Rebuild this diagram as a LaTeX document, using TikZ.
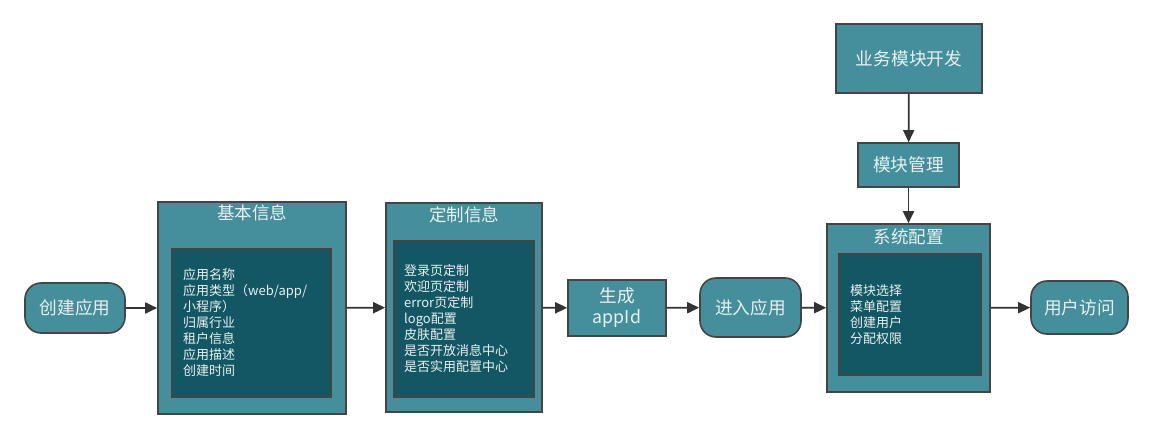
\documentclass[tikz,border=0pt]{standalone}
\usepackage{fontspec}
\setmainfont{Noto Sans CJK SC}
\usetikzlibrary{arrows.meta}
\definecolor{tealmid}{HTML}{458E9B}
\definecolor{tealdark}{HTML}{135764}
\definecolor{edgegray}{HTML}{444444}
\definecolor{txt}{HTML}{E8F0F0}
\definecolor{arrowc}{HTML}{333333}
\begin{document}
\begin{tikzpicture}[x=1pt,y=-1pt,
  box/.style={draw=edgegray,line width=1.6pt,fill=tealmid,text=txt,inner sep=0pt,align=center},
  inner/.style={draw=edgegray,line width=1.6pt,fill=tealdark,inner sep=0pt},
  pill/.style={box,rounded corners=16pt},
  big/.style={font=\fontsize{17.7}{21}\selectfont},
  title/.style={text=txt,font=\fontsize{17.5}{20}\selectfont,inner sep=0pt},
  list/.style={text=txt,font=\fontsize{13}{16}\selectfont,align=left,anchor=west,inner sep=0pt},
  flow/.style={draw=arrowc,line width=1.8pt,-{Triangle[length=12pt,width=11pt]}}
]
\useasboundingbox (0,0) rectangle (1153,439);

% start pill
\node[pill,big,minimum width=100pt,minimum height=50pt] (create) at (75,308) {创建应用};

% basic info group
\node[box,minimum width=188pt,minimum height=212pt] (basic) at (252,308) {};
\node[title] (basicT) at (252,213) {基本信息};
\node[inner,minimum width=159pt,minimum height=148pt] (basicIn) at (251.5,323) {};
\node[list] (basicL) at (183,323) {应用名称\\应用类型（web/app/\\小程序）\\归属行业\\租户信息\\应用描述\\创建时间};

% custom info group
\node[box,minimum width=156pt,minimum height=209pt] (custom) at (464,307.5) {};
\node[title] (customT) at (464,215) {定制信息};
\node[inner,minimum width=140pt,minimum height=156pt] (customIn) at (464,319) {};
\node[list] (customL) at (404,319) {登录页定制\\欢迎页定制\\error页定制\\logo配置\\皮肤配置\\是否开放消息中心\\是否实用配置中心};

% generate id
\node[box,minimum width=98pt,minimum height=56pt,font=\fontsize{17.7}{21}\selectfont] (gen) at (617,308) {生成\\appId};

% enter app
\node[pill,big,minimum width=101pt,minimum height=59pt] (enter) at (750.5,307.5) {进入应用};

% system config group
\node[box,minimum width=163pt,minimum height=168pt] (sys) at (908.5,308) {};
\node[title] (sysT) at (908.5,237) {系统配置};
\node[inner,minimum width=142pt,minimum height=121pt] (sysIn) at (910,314.5) {};
\node[list] (sysL) at (850,315) {模块选择\\菜单配置\\创建用户\\分配权限};

% user access
\node[pill,big,minimum width=97pt,minimum height=53pt] (user) at (1079.5,307.5) {用户访问};

% module development chain
\node[box,big,minimum width=146pt,minimum height=69pt] (dev) at (909,58.5) {业务模块开发};
\node[box,big,minimum width=101pt,minimum height=44pt] (mgmt) at (908.5,165) {模块管理};

% connectors
\draw[flow] (create) -- (basic);
\draw[flow] (basic) -- (custom);
\draw[flow] (custom) -- (gen);
\draw[flow] (gen) -- (enter);
\draw[flow] (enter) -- (sys);
\draw[flow] (sys) -- (user);
\draw[flow] (dev) -- (mgmt);
\draw[flow] (mgmt) -- (sys);
\end{tikzpicture}
\end{document}
